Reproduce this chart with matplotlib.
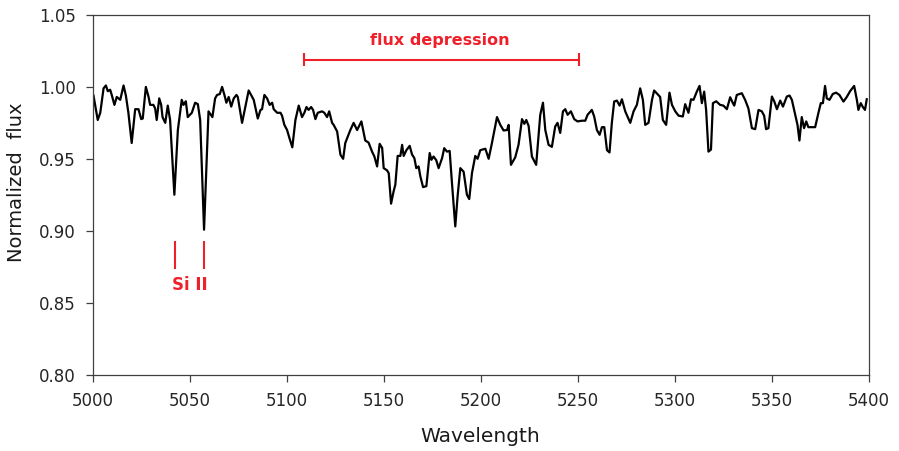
import matplotlib
matplotlib.use("Agg")
import matplotlib.pyplot as plt

wavelength = [
    5000.5, 5002.7, 5004.0, 5005.7, 5006.9, 5007.9, 5009.1, 5009.9, 5011.3, 5012.5,
    5014.3, 5016.0, 5017.2, 5018.5, 5020.2, 5022.0, 5023.7, 5025.1, 5025.9, 5027.5,
    5028.9, 5029.7, 5031.4, 5032.3, 5033.1, 5034.4, 5035.4, 5036.1, 5037.5, 5038.8,
    5040.0, 5042.2, 5044.0, 5046.0, 5046.9, 5048.1, 5049.1, 5051.2, 5052.9, 5054.3,
    5055.5, 5057.5, 5059.8, 5061.8, 5063.2, 5064.2, 5065.6, 5066.8, 5068.0, 5069.0,
    5070.2, 5071.5, 5072.8, 5074.2, 5074.9, 5077.1, 5078.8, 5080.5, 5082.3, 5083.1,
    5085.2, 5086.6, 5087.4, 5088.6, 5090.0, 5091.3, 5092.6, 5093.4, 5095.2, 5096.9,
    5097.7, 5098.9, 5100.3, 5101.6, 5103.0, 5104.6, 5106.3, 5108.0, 5109.2, 5110.3,
    5111.4, 5112.7, 5113.7, 5114.9, 5116.1, 5118.3, 5119.5, 5120.9, 5122.0, 5123.5,
    5124.3, 5126.1, 5127.8, 5129.2, 5130.3, 5132.9, 5134.6, 5136.4, 5138.6, 5140.6,
    5142.3, 5144.1, 5145.3, 5146.7, 5148.0, 5149.3, 5150.1, 5151.8, 5152.7, 5153.9,
    5155.2, 5156.1, 5157.3, 5158.7, 5159.6, 5160.4, 5161.8, 5163.5, 5164.7, 5165.9,
    5166.9, 5168.1, 5169.0, 5170.4, 5172.1, 5173.8, 5174.7, 5175.8, 5177.2, 5178.4,
    5180.2, 5181.3, 5182.7, 5184.1, 5185.3, 5187.0, 5188.2, 5189.6, 5191.3, 5193.0,
    5194.2, 5195.6, 5197.3, 5198.5, 5199.9, 5202.5, 5204.2, 5205.9, 5208.5, 5210.2,
    5211.9, 5213.7, 5214.5, 5215.7, 5217.9, 5219.6, 5221.4, 5222.6, 5223.6, 5224.8,
    5226.5, 5228.7, 5230.8, 5232.2, 5233.4, 5235.1, 5236.8, 5238.5, 5239.7, 5241.1,
    5242.5, 5243.7, 5244.9, 5246.6, 5248.3, 5250.0, 5252.3, 5254.0, 5255.2, 5257.4,
    5258.6, 5260.0, 5261.4, 5262.6, 5263.8, 5265.2, 5266.5, 5267.7, 5268.9, 5270.3,
    5271.7, 5272.9, 5274.6, 5277.2, 5278.9, 5280.6, 5282.3, 5283.7, 5284.9, 5286.6,
    5288.4, 5289.5, 5291.2, 5292.6, 5294.0, 5295.7, 5297.4, 5298.7, 5300.4, 5302.1,
    5304.3, 5305.5, 5307.2, 5308.5, 5309.8, 5311.5, 5312.9, 5314.1, 5315.3, 5316.3,
    5317.5, 5318.8, 5319.8, 5321.5, 5323.5, 5325.2, 5327.0, 5328.7, 5330.1, 5330.8,
    5332.1, 5334.7, 5336.4, 5338.1, 5339.9, 5341.6, 5343.3, 5345.0, 5346.2, 5347.2,
    5348.4, 5350.2, 5351.4, 5352.8, 5354.5, 5355.9, 5357.9, 5359.3, 5360.5, 5362.2,
    5363.4, 5364.4, 5365.6, 5366.8, 5367.9, 5369.0, 5370.8, 5372.5, 5374.2, 5375.4,
    5376.5, 5377.6, 5378.5, 5379.9, 5381.6, 5383.3, 5385.0, 5387.1, 5388.8, 5390.5,
    5392.6, 5394.0, 5394.8, 5396.0, 5397.1, 5398.2, 5399.1,
]

flux = [
    0.994, 0.977, 0.982, 0.999, 1.001, 0.997, 0.998, 0.9945, 0.9875, 0.993,
    0.991, 1.001, 0.994, 0.982, 0.961, 0.9845, 0.9845, 0.9776, 0.978, 1.000,
    0.993, 0.9875, 0.9875, 0.985, 0.977, 0.992, 0.9875, 0.979, 0.975, 0.987,
    0.977, 0.925, 0.970, 0.991, 0.9875, 0.990, 0.979, 0.982, 0.989, 0.988,
    0.977, 0.9007, 0.983, 0.979, 0.992, 0.9944, 0.995, 1.000, 0.9944, 0.989,
    0.993, 0.9863, 0.992, 0.9944, 0.993, 0.975, 0.9863, 0.9975, 0.993, 0.991,
    0.978, 0.984, 0.9845, 0.9944, 0.992, 0.9875, 0.989, 0.9845, 0.982, 0.982,
    0.980, 0.9736, 0.970, 0.964, 0.958, 0.977, 0.987, 0.979, 0.982, 0.986,
    0.984, 0.986, 0.984, 0.9776, 0.982, 0.983, 0.982, 0.979, 0.983, 0.975,
    0.9736, 0.969, 0.9528, 0.950, 0.961, 0.970, 0.975, 0.970, 0.976, 0.9627,
    0.9613, 0.955, 0.9516, 0.9447, 0.9604, 0.9576, 0.9435, 0.942, 0.940, 0.9188,
    0.9273, 0.932, 0.952, 0.952, 0.9597, 0.952, 0.956, 0.959, 0.953, 0.9505,
    0.9435, 0.9447, 0.9377, 0.9303, 0.931, 0.954, 0.9493, 0.9516, 0.949, 0.9435,
    0.9505, 0.9574, 0.955, 0.9555, 0.933, 0.903, 0.924, 0.9435, 0.941, 0.925,
    0.922, 0.940, 0.952, 0.950, 0.956, 0.957, 0.950, 0.961, 0.979, 0.9736,
    0.9697, 0.970, 0.9736, 0.9458, 0.951, 0.9597, 0.9776, 0.9743, 0.977, 0.9729,
    0.9516, 0.9458, 0.9806, 0.989, 0.970, 0.9597, 0.9583, 0.9724, 0.975, 0.968,
    0.983, 0.9845, 0.9806, 0.983, 0.9776, 0.976, 0.9765, 0.9765, 0.9806, 0.984,
    0.9794, 0.970, 0.9667, 0.972, 0.972, 0.956, 0.9544, 0.975, 0.9898, 0.9905,
    0.987, 0.9914, 0.983, 0.975, 0.983, 0.9875, 0.999, 0.991, 0.9736, 0.975,
    0.991, 0.9975, 0.995, 0.993, 0.977, 0.9736, 0.996, 0.9875, 0.983, 0.980,
    0.9794, 0.988, 0.982, 0.9914, 0.991, 0.9967, 1.0007, 0.9887, 0.9967, 0.984,
    0.955, 0.9564, 0.9887, 0.990, 0.9875, 0.987, 0.9845, 0.9928, 0.9887, 0.987,
    0.9944, 0.9956, 0.991, 0.985, 0.9713, 0.9706, 0.984, 0.983, 0.980, 0.9706,
    0.9713, 0.9933, 0.990, 0.9845, 0.9905, 0.9863, 0.9933, 0.994, 0.991, 0.9806,
    0.9736, 0.9627, 0.979, 0.9713, 0.976, 0.972, 0.972, 0.972, 0.982, 0.9887,
    0.9887, 1.0007, 0.992, 0.991, 0.9951, 0.996, 0.9944, 0.9898, 0.993, 0.997,
    1.0007, 0.991, 0.984, 0.9887, 0.986, 0.984, 0.9914,
]

x_ticks = [5000, 5050, 5100, 5150, 5200, 5250, 5300, 5350, 5400]
y_ticks = [0.80, 0.85, 0.90, 0.95, 1.00, 1.05]

si_lines = [5042.3, 5057.7]
si_line_y = [0.8736, 0.8926]
si_label = "Si II"
si_label_pos = (5050.3, 0.8622)

depression_range = [5109.0, 5251.0]
depression_y = 1.0188
depression_label = "flux depression"
depression_label_pos = (5179.0, 1.0326)

RED = "#f0202a"

fig = plt.figure(figsize=(8.99, 4.51), dpi=100)
ax = fig.add_axes([92.5 / 899, 76.5 / 451, 776 / 899, 359.5 / 451])

ax.plot(wavelength, flux, color="black", lw=1.6, solid_joinstyle="round")

ax.set_xlim(5000, 5400)
ax.set_ylim(0.80, 1.05)
ax.set_xticks(x_ticks)
ax.set_xticklabels([str(v) for v in x_ticks])
ax.set_yticks(y_ticks)
ax.set_yticklabels([f"{v:.2f}" for v in y_ticks])

for s in ax.spines.values():
    s.set_color("#404040")
    s.set_linewidth(0.9)
ax.tick_params(direction="out", length=4.8, width=0.9, color="#404040",
               labelsize=12, labelcolor="#262626")
ax.tick_params(axis="x", pad=8)
ax.tick_params(axis="y", pad=7)
ax.tick_params(axis="both", which="both", top=False, right=False)

ax.set_xlabel("Wavelength", fontsize=14.5, color="#1a1a1a")
ax.set_ylabel("Normalized  flux", fontsize=14, color="#1a1a1a")
ax.xaxis.set_label_coords(0.5, -0.147)
ax.yaxis.set_label_coords(-0.086, 0.536)

# Si II markers
ax.vlines(si_lines, si_line_y[0], si_line_y[1], color=RED, lw=1.5)
ax.text(si_label_pos[0], si_label_pos[1], si_label, color=RED, fontsize=12,
        fontweight="bold", ha="center", va="center")

# flux depression bar
ax.plot(depression_range, [depression_y, depression_y], color=RED, lw=1.5)
ax.vlines(depression_range, depression_y - 0.0045, depression_y + 0.0045,
          color=RED, lw=1.5)
ax.text(depression_label_pos[0], depression_label_pos[1], depression_label,
        color=RED, fontsize=11.5, fontweight="bold", ha="center", va="center")

fig.savefig("out.png", dpi=100)
